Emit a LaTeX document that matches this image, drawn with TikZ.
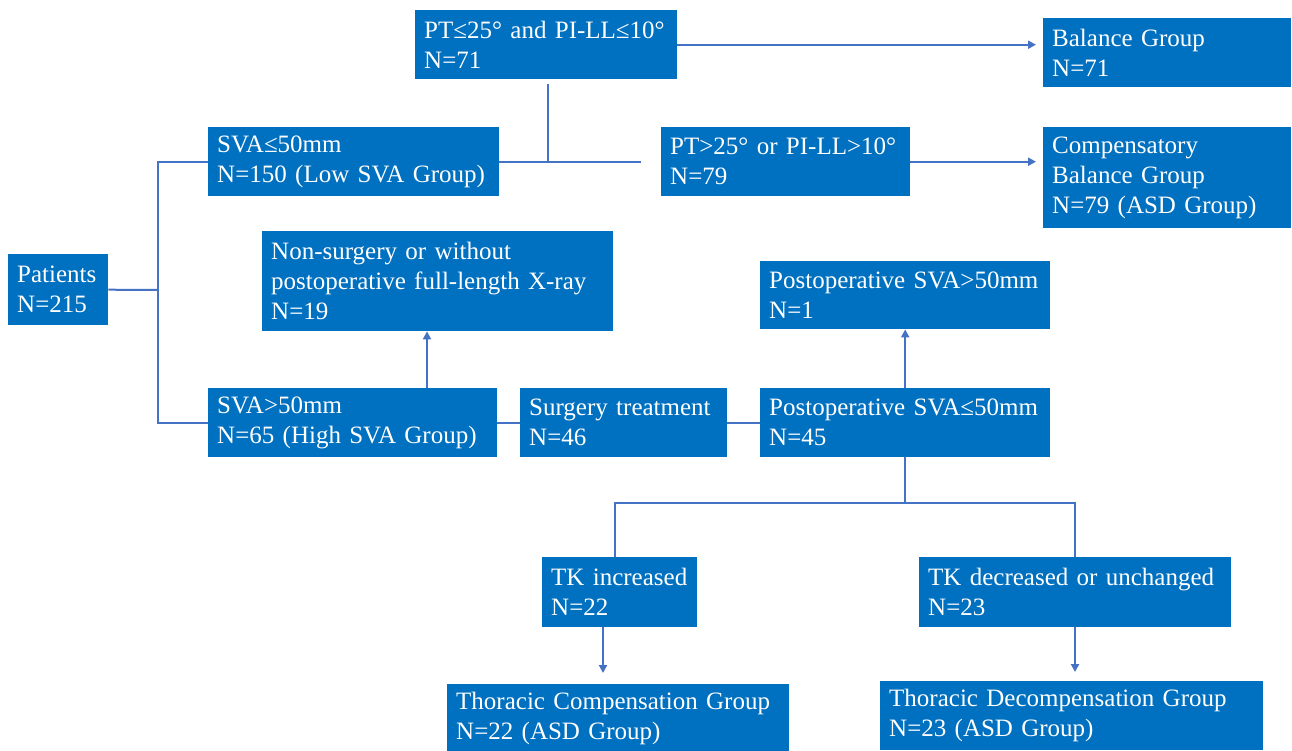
\documentclass[tikz,border=0pt]{standalone}
\usepackage{fontspec}
\setmainfont{Liberation Serif}
\usetikzlibrary{arrows.meta,calc}
\definecolor{boxblue}{RGB}{0,112,192}
\definecolor{linkblue}{RGB}{68,114,196}
\begin{document}
\begin{tikzpicture}[x=1pt,y=-1pt,
  box/.style={fill=boxblue,text=white,anchor=north west,inner xsep=9pt,inner ysep=0pt,align=left,font=\fontsize{25}{30}\selectfont},
  link/.style={draw=linkblue,line width=2pt},
  arr/.style={link,-{Triangle[length=8pt,width=8pt]}}]
\useasboundingbox[fill=white] (0,0) rectangle (1292,750);
% boxes
\node[box,minimum width=262pt,minimum height=69pt,text width=244pt] (pt1) at (415,10) {PT≤25°~and~PI-LL≤10°\\N=71};
\node[box,minimum width=248pt,minimum height=69pt,text width=230pt] (bal) at (1043,18) {Balance~Group\\N=71};
\node[box,minimum width=291pt,minimum height=69pt,text width=273pt] (svalow) at (208,127) {SVA≤50mm\\N=150~(Low~SVA~Group)};
\node[box,minimum width=249pt,minimum height=69pt,text width=231pt] (pt2) at (661,127) {PT>25°~or~PI-LL>10°\\N=79};
\node[box,minimum width=248pt,minimum height=101pt,text width=230pt] (comp) at (1043,127) {Compensatory\\Balance~Group\\N=79~(ASD~Group)};
\node[box,minimum width=100pt,minimum height=71pt,text width=82pt] (pat) at (8,254) {Patients\\N=215};
\node[box,minimum width=351pt,minimum height=100pt,text width=333pt] (nons) at (262,231) {Non-surgery~or~without\\postoperative~full-length~X-ray\\N=19};
\node[box,minimum width=290pt,minimum height=68pt,text width=272pt] (post1) at (760,261) {Postoperative~SVA>50mm\\N=1};
\node[box,minimum width=289pt,minimum height=69pt,text width=271pt] (svahi) at (208,388) {SVA>50mm\\N=65~(High~SVA~Group)};
\node[box,minimum width=207pt,minimum height=69pt,text width=189pt] (surg) at (520,388) {Surgery~treatment\\N=46};
\node[box,minimum width=290pt,minimum height=69pt,text width=272pt] (post2) at (760,388) {Postoperative~SVA≤50mm\\N=45};
\node[box,minimum width=155pt,minimum height=70pt,text width=137pt] (tki) at (542,557) {TK~increased\\N=22};
\node[box,minimum width=312pt,minimum height=70pt,text width=294pt] (tkd) at (919,557) {TK~decreased~or~unchanged\\N=23};
\node[box,minimum width=342pt,minimum height=69pt,text width=324pt] (tcg) at (447,684) {Thoracic~Compensation~Group\\N=22~(ASD~Group)};
\node[box,minimum width=383pt,minimum height=69pt,text width=365pt] (tdg) at (880,681) {Thoracic~Decompensation~Group\\N=23~(ASD~Group)};
% helper coordinates
\coordinate (j1) at (158,290);
\coordinate (j2) at (548,0);
\coordinate (j3) at (427,0);
\coordinate (jl) at (615,503);
\coordinate (jr) at (1075,503);
\coordinate (j5) at (603,0);
% connectors
\draw[link] (pat.east) -- (j1);
\draw[link] (svalow.west) -| (j1) |- (svahi.west);
\draw[link,shorten >=20pt] (svalow.east) -- (svalow.east -| pt2.west);
\draw[link,shorten >=5pt] (svalow.east -| j2) -- (j2 |- pt1.south);
\draw[arr,shorten >=7pt] (pt1.east) -- (pt1.east -| bal.west);
\draw[arr,shorten >=7pt] (pt2.east) -- (pt2.east -| comp.west);
\draw[arr] (svahi.north -| j3) -- (nons.south -| j3);
\draw[link] (svahi.east) -- (surg.west);
\draw[link] (surg.east) -- (post2.west);
\draw[arr] (post2.north) -- (post1.south);
\draw[link] (post2.south) -- (post2.south |- jl);
\draw[link] (tki.north -| jl) -- (jl) -- (jr) -- (tkd.north -| jr);
\draw[arr,shorten >=11pt] (tki.south -| j5) -- (tcg.north -| j5);
\draw[arr,shorten >=9pt] (tkd.south -| jr) -- (tdg.north -| jr);
\end{tikzpicture}
\end{document}
